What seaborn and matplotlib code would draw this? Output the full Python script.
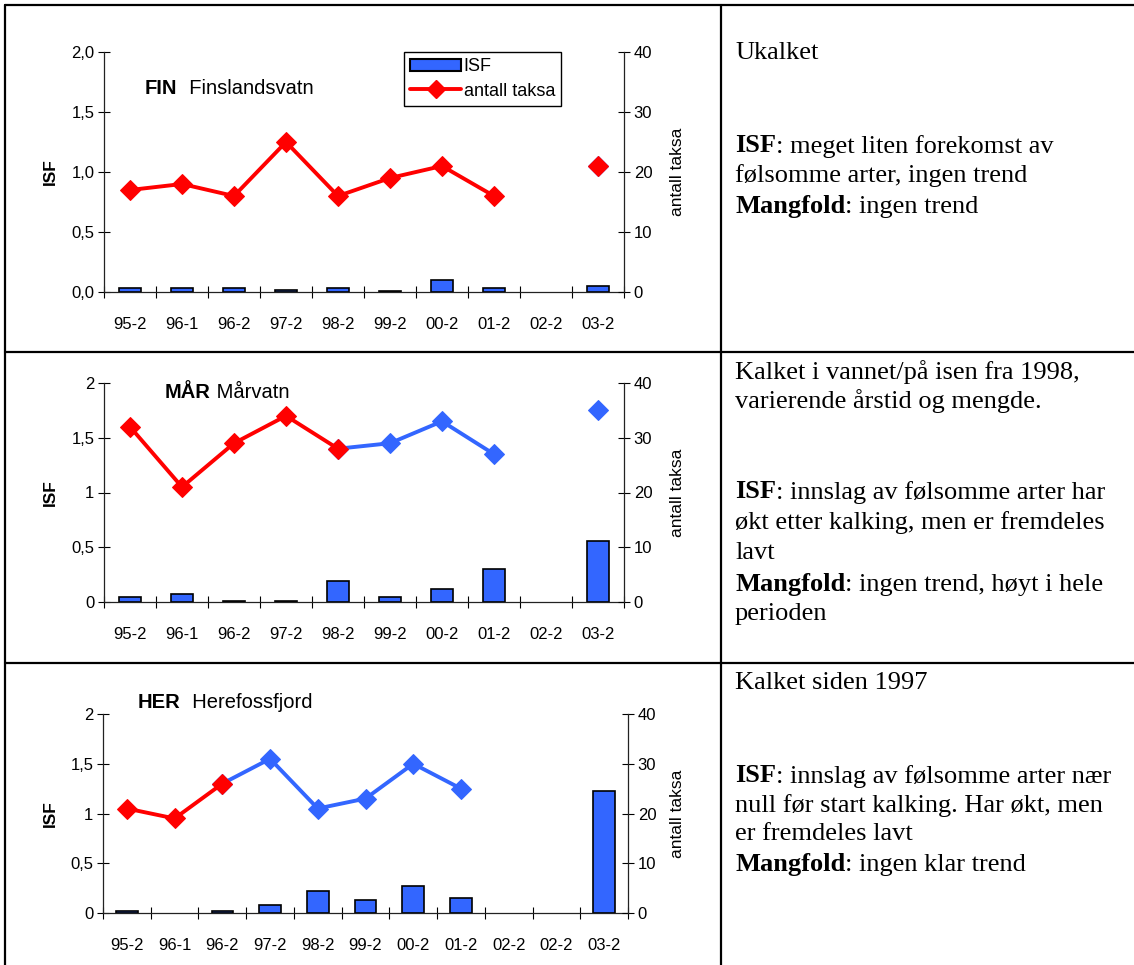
import numpy as np
import pandas as pd
import matplotlib
matplotlib.use("Agg")
import matplotlib.pyplot as plt
import seaborn as sns
from matplotlib.lines import Line2D
from matplotlib.patches import Patch
from matplotlib.ticker import FuncFormatter

# ---------------- data ----------------
cats_fin = ["95-2", "96-1", "96-2", "97-2", "98-2", "99-2", "00-2", "01-2", "02-2", "03-2"]
isf_fin = [0.03, 0.03, 0.03, 0.02, 0.03, 0.01, 0.10, 0.03, np.nan, 0.05]
taksa_fin = [17, 18, 16, 25, 16, 19, 21, 16, np.nan, 21]

cats_mar = ["95-2", "96-1", "96-2", "97-2", "98-2", "99-2", "00-2", "01-2", "02-2", "03-2"]
isf_mar = [0.05, 0.07, 0.01, 0.005, 0.19, 0.05, 0.12, 0.30, np.nan, 0.56]
taksa_mar = [32, 21, 29, 34, 28, 29, 33, 27, np.nan, 35]

cats_her = ["95-2", "96-1", "96-2", "97-2", "98-2", "99-2", "00-2", "01-2", "02-2", "02-2", "03-2"]
isf_her = [0.02, np.nan, 0.02, 0.08, 0.22, 0.13, 0.27, 0.15, np.nan, np.nan, 1.23]
taksa_her = [21, 19, 26, 31, 21, 23, 30, 25, np.nan, np.nan, np.nan]

# index of last "unlimed" (red) point; later points are blue
red_end_fin = 9
red_end_mar = 4
red_end_her = 2

BLUE = "#3366FF"
RED = "#FF0000"

W, H = 1134, 965
sns.set_theme(style="white")
plt.rcParams['font.family'] = ['Liberation Sans', 'DejaVu Sans']
plt.rcParams['text.color'] = 'black'
plt.rcParams['axes.labelcolor'] = 'black'
plt.rcParams['xtick.color'] = 'black'
plt.rcParams['ytick.color'] = 'black'

fig = plt.figure(figsize=(W / 100, H / 100), dpi=100)
fig.patch.set_facecolor("white")


def fx(x):
    return x / W


def fy(y):
    return 1 - y / H


def runs(indices, vals):
    out, cur = [], []
    for i in indices:
        if np.isnan(vals[i]):
            if cur:
                out.append(cur)
            cur = []
        else:
            cur.append(i)
    if cur:
        out.append(cur)
    return out


def comma_fmt(decimals):
    def f(v, p):
        if decimals:
            return f"{v:.1f}".replace(".", ",")
        return f"{v:g}".replace(".", ",")
    return FuncFormatter(f)


def panel(px, cats, isf, taksa, red_end, decimals, barw, xpad, legend=False):
    left, right, top, bottom = px
    ax = fig.add_axes([fx(left), fy(bottom), (right - left) / W, (bottom - top) / H])
    n = len(cats)
    pos = np.arange(n)
    df = pd.DataFrame({"pos": pos, "isf": isf})
    sns.barplot(data=df, x="pos", y="isf", order=list(pos), color=BLUE, saturation=1,
                width=barw, edgecolor="black", linewidth=1.2, errorbar=None, ax=ax)
    ax.set_xlim(-0.5, n - 0.5)
    ax.set_ylim(0, 2)
    ax.set_xlabel("")
    ax.set_ylabel("")
    ax.set_facecolor("none")

    ax2 = ax.twinx()
    tv = np.array(taksa, dtype=float)
    for r in runs(range(red_end, n), tv):
        sns.lineplot(x=pos[r], y=tv[r], color=BLUE, linewidth=2.8, marker="D",
                     markersize=10.5, markeredgecolor=BLUE, ax=ax2, zorder=3)
    for r in runs(range(0, min(red_end, n - 1) + 1), tv):
        sns.lineplot(x=pos[r], y=tv[r], color=RED, linewidth=2.8, marker="D",
                     markersize=10.5, markeredgecolor=RED, ax=ax2, zorder=4)
    ax2.set_xlim(-0.5, n - 0.5)
    ax2.set_ylim(0, 40)
    ax2.set_ylabel("")
    ax2.set_xlabel("")

    ax.set_yticks([0, 0.5, 1, 1.5, 2])
    ax.yaxis.set_major_formatter(comma_fmt(decimals))
    ax.set_xticks(pos)
    ax.set_xticklabels(cats)
    ax.set_xticks(np.arange(n + 1) - 0.5, minor=True)
    ax.tick_params(axis="x", which="major", length=0, pad=xpad, labelsize=12)
    ax.tick_params(axis="x", which="minor", length=8, width=0.8, direction="inout", bottom=True)
    ax.tick_params(axis="y", which="major", length=8, width=0.8, direction="inout",
                   left=True, labelsize=12, pad=3)
    ax2.set_yticks([0, 10, 20, 30, 40])
    ax2.tick_params(axis="y", which="major", length=8, width=0.8, direction="inout",
                    right=True, labelsize=12, pad=3)
    for a in (ax, ax2):
        a.spines["top"].set_visible(False)
        for s in a.spines.values():
            s.set_color("#222222")
            s.set_linewidth(0.9)
        a.grid(False)
    ax.spines["right"].set_visible(False)
    ax2.spines["left"].set_visible(False)
    ax2.spines["bottom"].set_visible(False)

    ymid = (top + bottom) / 2
    fig.text(fx(50), fy(ymid), "ISF", rotation=90, ha="center", va="center",
             fontsize=12.5, fontweight="bold")
    fig.text(fx(677), fy(ymid), "antall taksa", rotation=90, ha="center", va="center",
             fontsize=12.5)

    if legend:
        handles = [Patch(facecolor=BLUE, edgecolor="black", linewidth=1.5, label="ISF"),
                   Line2D([0], [0], color=RED, lw=2.8, marker="D", ms=9.5,
                          markeredgecolor=RED, label="antall taksa")]
        leg = ax2.legend(handles=handles, loc="upper left", bbox_to_anchor=(0.577, 1.0),
                         frameon=True, fancybox=False, edgecolor="black", framealpha=1,
                         borderpad=0.35, handlelength=2.8, handletextpad=0.15,
                         fontsize=13, borderaxespad=0, labelspacing=0.4)
        leg.get_frame().set_linewidth(1.0)
    return ax


def title(x, y, bold, rest, size=14.5):
    t = fig.text(fx(x), fy(y), bold, fontsize=size, fontweight="bold", ha="left", va="center")
    plt.annotate(rest, xy=(1, 0), xycoords=t, ha="left", va="bottom", fontsize=size)


panel((104, 624, 52, 292), cats_fin, isf_fin, taksa_fin, red_end_fin, True, 0.42, 18, legend=True)
panel((104, 624, 383, 602), cats_mar, isf_mar, taksa_mar, red_end_mar, False, 0.42, 18)
panel((103, 628, 714, 913), cats_her, isf_her, taksa_her, red_end_her, False, 0.45, 18)

title(145, 88, "FIN", "  Finslandsvatn")
title(165, 392, "MÅR", " Mårvatn")
title(138, 703, "HER", "  Herefossfjord")

# ---------------- table grid ----------------
def hline(y, x0=5, x1=1134):
    fig.add_artist(Line2D([fx(x0), fx(x1)], [fy(y), fy(y)], transform=fig.transFigure,
                          color="black", lw=1.6))


def vline(x, y0=5, y1=965):
    fig.add_artist(Line2D([fx(x), fx(x)], [fy(y0), fy(y1)], transform=fig.transFigure,
                          color="black", lw=1.6))


hline(5)
hline(352)
hline(663)
vline(5)
vline(721)

# ---------------- right-hand text ----------------
SERIF = ['Liberation Serif', 'DejaVu Serif']
TS = 19


def line(y, bold, rest):
    if bold:
        t = fig.text(fx(735), fy(y), bold, fontsize=TS, fontweight="bold", family=SERIF,
                     ha="left", va="center")
        plt.annotate(rest, xy=(1, 0), xycoords=t, ha="left", va="bottom", fontsize=TS,
                     family=SERIF)
    else:
        fig.text(fx(735), fy(y), rest, fontsize=TS, family=SERIF, ha="left", va="center")


line(53, None, "Ukalket")
line(146, "ISF", ": meget liten forekomst av")
line(176, None, "følsomme arter, ingen trend")
line(207, "Mangfold", ": ingen trend")

line(372, None, "Kalket i vannet/på isen fra 1998,")
line(401, None, "varierende årstid og mengde.")
line(492, "ISF", ": innslag av følsomme arter har")
line(523, None, "økt etter kalking, men er fremdeles")
line(553, None, "lavt")
line(584, "Mangfold", ": ingen trend, høyt i hele")
line(614, None, "perioden")

line(683, None, "Kalket siden 1997")
line(776, "ISF", ": innslag av følsomme arter nær")
line(806, None, "null før start kalking. Har økt, men")
line(834, None, "er fremdeles lavt")
line(864, "Mangfold", ": ingen klar trend")

fig.savefig("out.png", dpi=100, facecolor="white")
